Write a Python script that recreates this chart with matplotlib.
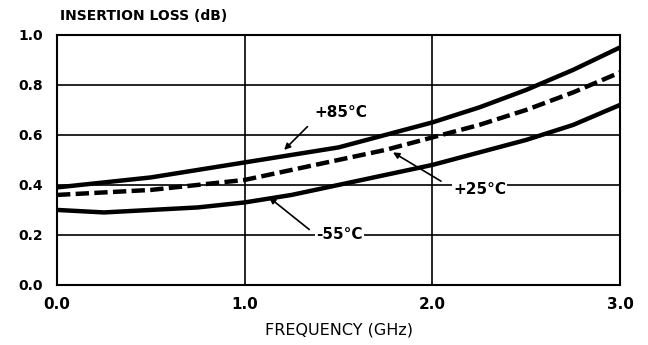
import matplotlib
matplotlib.use('Agg')
import matplotlib.pyplot as plt
import numpy as np

# frequency (GHz) and insertion loss (dB)
freq = [0.0, 0.25, 0.5, 0.75, 1.0, 1.25, 1.5, 1.75, 2.0, 2.25, 2.5, 2.75, 3.0]
loss_85 = [0.39, 0.41, 0.43, 0.46, 0.49, 0.52, 0.55, 0.60, 0.65, 0.71, 0.78, 0.86, 0.95]
loss_25 = [0.36, 0.37, 0.38, 0.40, 0.42, 0.46, 0.50, 0.54, 0.59, 0.64, 0.70, 0.77, 0.85]
loss_m55 = [0.30, 0.29, 0.30, 0.31, 0.33, 0.36, 0.40, 0.44, 0.48, 0.53, 0.58, 0.64, 0.72]

xticks = [0.0, 1.0, 2.0, 3.0]
yticks = [0.0, 0.2, 0.4, 0.6, 0.8, 1.0]

plt.rcParams['font.family'] = 'DejaVu Sans'
fig = plt.figure(figsize=(6.48, 3.45), dpi=100)
ax = fig.add_axes([0.088, 0.174, 0.869, 0.725])

ax.plot(freq, loss_85, color='black', lw=3.2, solid_capstyle='butt')
ax.plot(freq, loss_25, color='black', lw=3.2, ls=(0, (3, 1.2)))
ax.plot(freq, loss_m55, color='black', lw=3.2)

ax.set_xlim(0, 3.0)
ax.set_ylim(0, 1.0)
ax.set_xticks(xticks)
ax.set_yticks(yticks)
ax.set_xticklabels(['%.1f' % v for v in xticks], fontsize=11, fontweight='bold')
ax.set_yticklabels(['%.1f' % v for v in yticks], fontsize=10, fontweight='bold')
ax.tick_params(axis='x', length=0, pad=9)
ax.tick_params(axis='y', length=0, pad=10)
ax.grid(True, color='black', lw=1.2)
for s in ax.spines.values():
    s.set_linewidth(1.5)

fig.text(0.092, 0.955, 'INSERTION LOSS (dB)', fontsize=10, fontweight='bold', va='center')
ax.set_xlabel('FREQUENCY (GHz)', fontsize=11.5, labelpad=7)

box = dict(facecolor='white', edgecolor='none', pad=1)
arrow = dict(arrowstyle='-|>', color='black', lw=1.2, shrinkA=4, shrinkB=0, mutation_scale=9)
ax.annotate('+85°C', xy=(1.21, 0.54), xytext=(1.37, 0.69), fontsize=11, fontweight='bold',
            ha='left', va='center', arrowprops=dict(arrow, relpos=(0, 0)))
ax.annotate('+25°C', xy=(1.79, 0.53), xytext=(2.11, 0.38), fontsize=11, fontweight='bold',
            ha='left', va='center', bbox=box, arrowprops=dict(arrow, relpos=(0, 0.6), shrinkA=9))
ax.annotate('-55°C', xy=(1.13, 0.35), xytext=(1.38, 0.20), fontsize=11, fontweight='bold',
            ha='left', va='center', bbox=box, arrowprops=dict(arrow, relpos=(0, 0.5), shrinkA=5))

fig.savefig('out.png', dpi=100)
